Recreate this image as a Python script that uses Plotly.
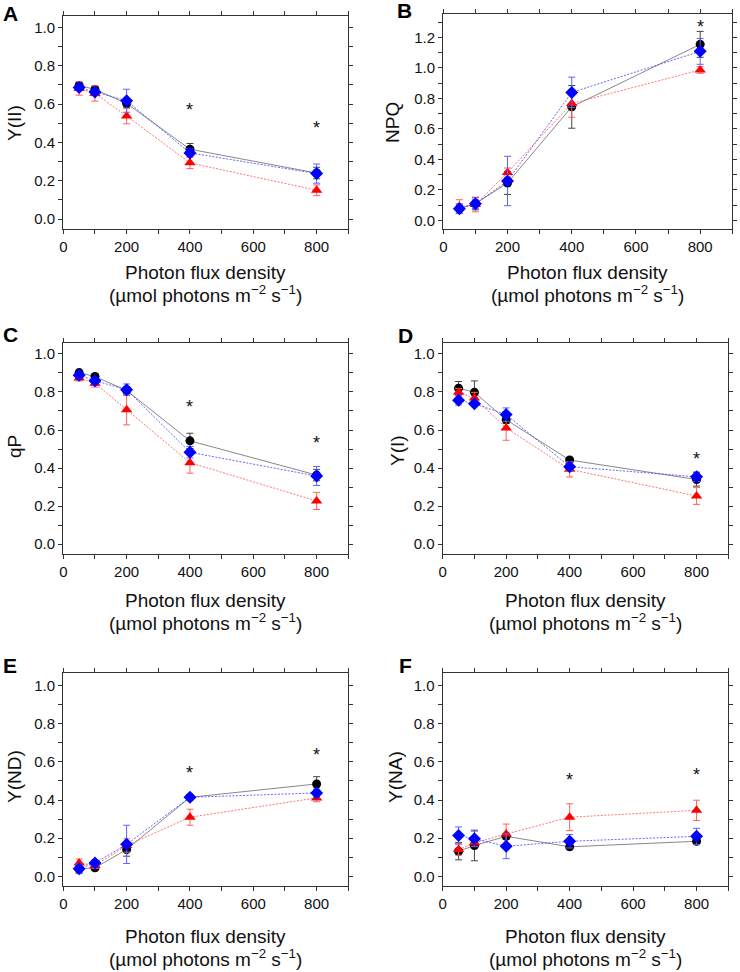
import plotly.graph_objects as go

# ---------------- data ----------------
x_pfd = [50, 100, 200, 400, 800]
x_ticks = [0, 200, 400, 600, 800]

panels = ["A", "B", "C", "D", "E", "F"]
y_titles = ["Y(II)", "NPQ", "qP", "Y(I)", "Y(ND)", "Y(NA)"]

# Y(II)
a_black = [0.697, 0.676, 0.603, 0.364, 0.240]
a_black_err = [0.010, 0.010, 0.020, 0.030, 0.030]
a_blue = [0.686, 0.662, 0.617, 0.345, 0.237]
a_blue_err = [0.015, 0.015, 0.060, 0.020, 0.050]
a_red = [0.681, 0.655, 0.537, 0.293, 0.150]
a_red_err = [0.035, 0.040, 0.040, 0.030, 0.028]
a_star_x = [400, 800]
a_star_y = [0.59, 0.495]

# NPQ
b_black = [0.077, 0.109, 0.245, 0.744, 1.154]
b_black_err = [0.030, 0.040, 0.075, 0.140, 0.085]
b_blue = [0.075, 0.108, 0.258, 0.839, 1.108]
b_blue_err = [0.030, 0.030, 0.162, 0.100, 0.085]
b_red = [0.090, 0.104, 0.313, 0.766, 0.986]
b_red_err = [0.045, 0.048, 0.030, 0.090, 0.022]
b_star_x = [800]
b_star_y = [1.296]

# qP
c_black = [0.902, 0.881, 0.808, 0.543, 0.363]
c_black_err = [0.010, 0.010, 0.020, 0.040, 0.030]
c_blue = [0.888, 0.859, 0.812, 0.483, 0.358]
c_blue_err = [0.010, 0.015, 0.030, 0.030, 0.050]
c_red = [0.873, 0.846, 0.707, 0.428, 0.227]
c_red_err = [0.015, 0.020, 0.080, 0.055, 0.045]
c_star_x = [400, 800]
c_star_y = [0.742, 0.555]

# Y(I)
d_black = [0.820, 0.798, 0.654, 0.442, 0.340]
d_black_err = [0.035, 0.060, 0.020, 0.010, 0.035]
d_blue = [0.756, 0.738, 0.681, 0.407, 0.354]
d_blue_err = [0.025, 0.015, 0.035, 0.020, 0.025]
d_red = [0.798, 0.768, 0.611, 0.393, 0.253]
d_red_err = [0.020, 0.030, 0.065, 0.040, 0.044]
d_star_x = [800]
d_star_y = [0.466]

# Y(ND)
e_black = [0.040, 0.045, 0.141, 0.414, 0.484]
e_black_err = [0.020, 0.015, 0.035, 0.010, 0.038]
e_blue = [0.040, 0.071, 0.168, 0.414, 0.437]
e_blue_err = [0.025, 0.015, 0.100, 0.010, 0.020]
e_red = [0.071, 0.057, 0.162, 0.310, 0.411]
e_red_err = [0.020, 0.015, 0.035, 0.042, 0.020]
e_star_x = [400, 800]
e_star_y = [0.562, 0.658]

# Y(NA)
f_black = [0.132, 0.162, 0.210, 0.155, 0.184]
f_black_err = [0.045, 0.080, 0.015, 0.010, 0.010]
f_blue = [0.214, 0.197, 0.158, 0.184, 0.210]
f_blue_err = [0.045, 0.040, 0.065, 0.035, 0.042]
f_red = [0.141, 0.176, 0.222, 0.310, 0.346]
f_red_err = [0.030, 0.020, 0.052, 0.070, 0.053]
f_star_x = [400, 800]
f_star_y = [0.524, 0.554]

series = [
    (a_black, a_black_err, a_blue, a_blue_err, a_red, a_red_err, a_star_x, a_star_y),
    (b_black, b_black_err, b_blue, b_blue_err, b_red, b_red_err, b_star_x, b_star_y),
    (c_black, c_black_err, c_blue, c_blue_err, c_red, c_red_err, c_star_x, c_star_y),
    (d_black, d_black_err, d_blue, d_blue_err, d_red, d_red_err, d_star_x, d_star_y),
    (e_black, e_black_err, e_blue, e_blue_err, e_red, e_red_err, e_star_x, e_star_y),
    (f_black, f_black_err, f_blue, f_blue_err, f_red, f_red_err, f_star_x, f_star_y),
]

# ---------------- layout geometry (pixels) ----------------
W, H = 740, 972
# (left, right, top, bottom) of each plot box
boxes = [
    (63.3, 348.3, 16.0, 229.0),
    (443.3, 732.3, 14.0, 229.0),
    (63.3, 348.3, 342.7, 554.0),
    (442.7, 728.3, 342.7, 554.0),
    (63.3, 348.3, 673.3, 886.0),
    (442.7, 728.3, 673.3, 886.0),
]
y_ranges = [[-0.052, 1.059], [-0.057, 1.353], [-0.052, 1.059],
            [-0.052, 1.059], [-0.05, 1.063], [-0.05, 1.063]]
ytitle_pos = [(14, 123), (392, 123), (14, 447), (397, 450), (14, 777), (395, 777)]
letter_pos = [(10, 14), (405, 11), (10, 334), (406, 335), (10, 665), (406, 665)]
xtitle_rows = {0: (272, 294), 1: (272, 294), 2: (600, 622), 3: (600, 622),
               4: (936, 958), 5: (936, 958)}

FONT = "Liberation Sans, Arial, sans-serif"
BLACK = "#000000"
BLUE = "#0000ff"
RED = "#ff0000"

fig = go.Figure()
annotations = []


def ann_paper(px, py, text, size, angle=0, color="#111111"):
    return dict(x=px / W, y=1 - py / H, xref="paper", yref="paper", text=text,
                textangle=angle, showarrow=False, xanchor="center", yanchor="middle",
                font=dict(family=FONT, size=size, color=color))


for i, (bk, bke, bl, ble, rd, rde, sx, sy) in enumerate(series):
    n = "" if i == 0 else str(i + 1)
    xa, ya = "x" + n, "y" + n
    specs = [
        (bk, bke, BLACK, "#444444", "circle", 9, dict(color="#555555", width=0.7, dash="solid")),
        (rd, rde, RED, "#ff6060", "triangle-up", 10, dict(color="#ff5050", width=0.8, dash="2px,1.5px")),
        (bl, ble, BLUE, "#6060ff", "diamond", 10, dict(color="#4040ff", width=0.8, dash="2px,1.5px")),
    ]
    for vals, errs, col, ecol, sym, size, line in specs:
        fig.add_trace(go.Scatter(
            x=x_pfd, y=vals, xaxis=xa, yaxis=ya, mode="lines+markers",
            line=line,
            marker=dict(symbol=sym, size=size, color=col, line=dict(width=0)),
            error_y=dict(type="data", array=errs, visible=True, color=ecol,
                         thickness=1, width=3.5),
            showlegend=False, hoverinfo="skip",
        ))
    # asterisks
    for xs, ys in zip(sx, sy):
        annotations.append(dict(x=xs, y=ys, xref=xa, yref=ya, text="*",
                                showarrow=False, xanchor="center", yanchor="middle",
                                font=dict(family=FONT, size=18, color="#111111"),
                                yshift=-4))

    l, r, t, b = boxes[i]
    axis_common = dict(showline=True, linecolor="#333333", linewidth=1.3, mirror="ticks",
                       ticks="outside", ticklen=4, tickwidth=1, tickcolor="#333333",
                       showgrid=False, zeroline=False, automargin=False,
                       tickfont=dict(family=FONT, size=15, color="#111111"))
    fig.layout["xaxis" + n] = dict(
        domain=[l / W, r / W], anchor=ya, range=[0, 900],
        tickmode="array", tickvals=x_ticks, ticktext=[str(v) for v in x_ticks],
        minor=dict(dtick=100, tick0=0, ticks="outside", ticklen=4, tickcolor="#333333"),
        **axis_common)
    fig.layout["yaxis" + n] = dict(
        domain=[1 - b / H, 1 - t / H], anchor=xa, range=y_ranges[i],
        dtick=0.2, tick0=0, tickformat=".1f",
        minor=dict(dtick=0.1, tick0=0, ticks="outside", ticklen=4, tickcolor="#333333"),
        **axis_common)

    # axis titles
    tx, ty = ytitle_pos[i]
    annotations.append(ann_paper(tx, ty, y_titles[i], 19, angle=-90))
    cx = (l + r) / 2
    y1, y2 = xtitle_rows[i]
    annotations.append(ann_paper(cx, y1, "Photon flux density", 19))
    annotations.append(ann_paper(cx, y2, "(µmol photons m<sup>−2</sup> s<sup>−1</sup>)", 19))
    lx, ly = letter_pos[i]
    annotations.append(ann_paper(lx, ly, "<b>" + panels[i] + "</b>", 21, color="#000000"))

fig.update_layout(
    width=W, height=H, margin=dict(l=0, r=0, t=0, b=0, pad=0),
    paper_bgcolor="white", plot_bgcolor="white",
    annotations=annotations,
    font=dict(family=FONT),
)

fig.write_html("out.html", config={"displayModeBar": False},
               post_script="document.body.style.margin='0';document.body.style.padding='0';")
